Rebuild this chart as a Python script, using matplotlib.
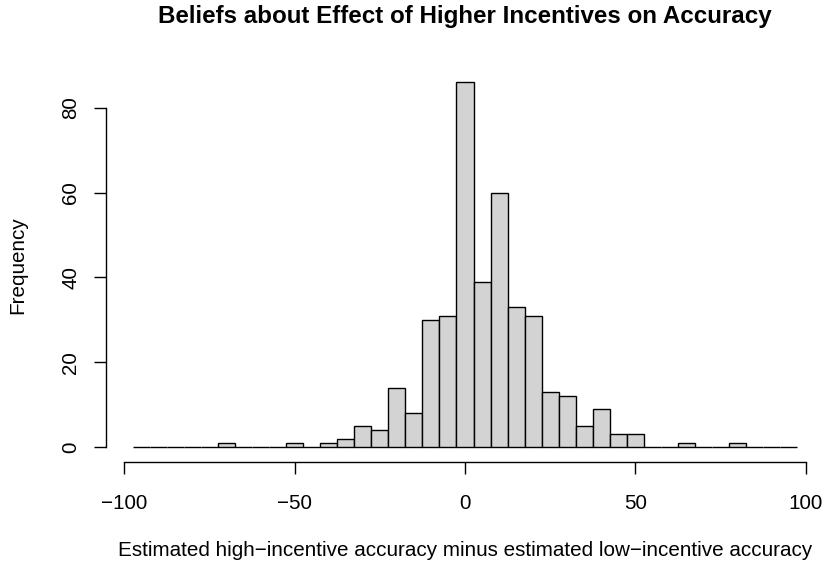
import matplotlib
matplotlib.use("Agg")
import matplotlib.pyplot as plt

# histogram counts, bins of width 5 centred on multiples of 5 (-95 .. 95)
bin_centers = list(range(-95, 100, 5))
counts = [0, 0, 0, 0, 0, 1, 0, 0, 0, 1, 0, 1, 2, 5, 4, 14, 8, 30, 31,
          86, 39, 60, 33, 31, 13, 12, 5, 9, 3, 3, 0, 0, 1, 0, 0, 1, 0, 0, 0]
x_ticks = [-100, -50, 0, 50, 100]
y_ticks = [0, 20, 40, 60, 80]

title = "Beliefs about Effect of Higher Incentives on Accuracy"
xlabel = "Estimated high\u2212incentive accuracy minus estimated low\u2212incentive accuracy"
ylabel = "Frequency"

plt.rcParams["font.family"] = ["Liberation Sans", "DejaVu Sans"]

W, H = 827, 563
fig = plt.figure(figsize=(W / 100, H / 100), dpi=100)
left, right, top, bottom = 106.2, 823.8, 67.8, 461.6
ax = fig.add_axes([left / W, 1 - bottom / H, (right - left) / W, (bottom - top) / H])

ax.bar(bin_centers, counts, width=5, color="#D3D3D3", edgecolor="black",
       linewidth=1.0)

ax.set_xlim(-105.3, 105.3)
ax.set_ylim(-3.44, 89.44)

for s in ["top", "right"]:
    ax.spines[s].set_visible(False)
ax.spines["left"].set_bounds(0, 80)
ax.spines["bottom"].set_bounds(-100, 100)
ax.spines["left"].set_linewidth(1.0)
ax.spines["bottom"].set_linewidth(1.0)

ax.set_xticks(x_ticks)
ax.set_xticklabels(["\u2212100", "\u221250", "0", "50", "100"])
ax.set_yticks(y_ticks)
ax.set_yticklabels([str(v) for v in y_ticks], rotation=90, va="center")
ax.tick_params(axis="both", length=8.6, width=1.0, labelsize=14.9)
ax.tick_params(axis="x", pad=15)
ax.tick_params(axis="y", pad=10)

fig.text(465 / W, 1 - 17 / H, title, ha="center", va="center",
         fontsize=17.4, fontweight="bold")
fig.text(465 / W, 1 - 550 / H, xlabel, ha="center", va="center", fontsize=14.9)
fig.text(18 / W, 1 - 265 / H, ylabel, ha="center", va="center", fontsize=14.9,
         rotation=90)

fig.savefig("out.png", dpi=100)
